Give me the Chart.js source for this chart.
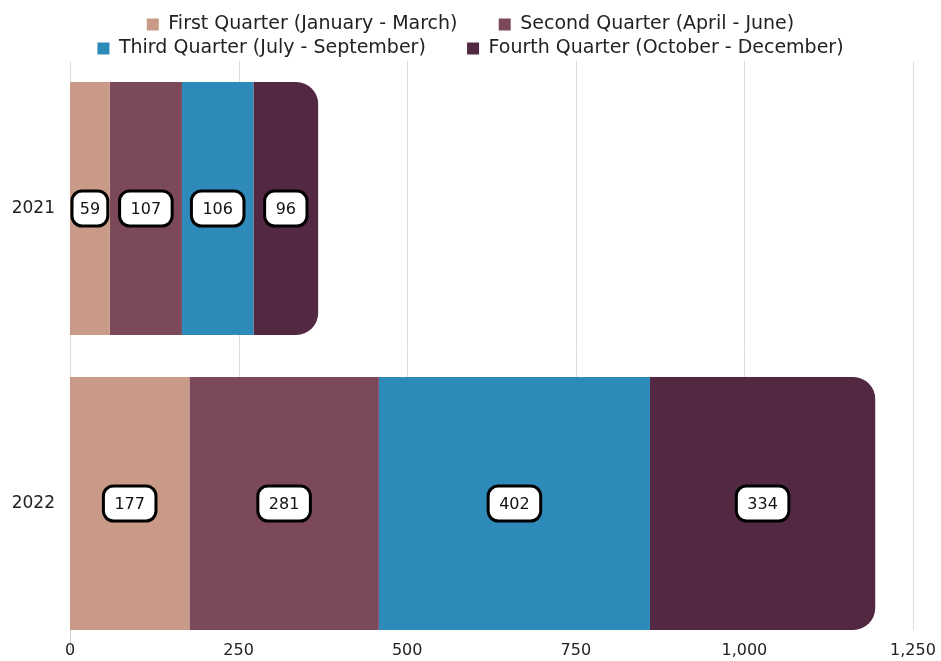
<!DOCTYPE html>
<html>
<head>
<meta charset="utf-8">
<script src="https://cdn.jsdelivr.net/npm/chart.js@4"></script>
<style>
  html, body { margin: 0; padding: 0; background: #fff; }
  canvas { display: block; }
</style>
</head>
<body>
<canvas id="grafico" width="941" height="661"></canvas>
<script>
const anos = ["2021", "2022"];
const primeiro = [59, 177];
const segundo = [107, 281];
const terceiro = [106, 402];
const quarto = [96, 334];
const nomesSeries = [
  "First Quarter (January - March)",
  "Second Quarter (April - June)",
  "Third Quarter (July - September)",
  "Fourth Quarter (October - December)"
];
const ticksX = [0, 250, 500, 750, 1000, 1250];

const cores = ["#C99A87", "#7C495B", "#2E8BB9", "#522843"];
const fonte = "'DejaVu Sans', sans-serif";

// legend sits a bit lower but keeps the plot top in place
const legendaPlugin = {
  id: "legendaAjuste",
  beforeLayout(chart) {
    const lg = chart.legend;
    if (lg && !lg._ajustado) {
      const fitOrig = lg.fit;
      lg.fit = function () {
        fitOrig.call(this);
        this.height -= 7;
      };
      lg._ajustado = true;
    }
  }
};

// grid lines + x labels drawn by hand: grid stops at the bottom of the last bar
const gradePlugin = {
  id: "grade",
  beforeDatasetsDraw(chart) {
    const ctx = chart.ctx;
    const area = chart.chartArea;
    const x = chart.scales.x;
    const meta = chart.getDatasetMeta(0);
    const ult = meta.data[meta.data.length - 1];
    const fundo = ult.y + ult.height / 2;
    ctx.save();
    ctx.strokeStyle = "#dcdcdc";
    ctx.lineWidth = 1;
    ticksX.forEach(v => {
      const px = Math.round(x.getPixelForValue(v)) + 0.5;
      ctx.beginPath();
      ctx.moveTo(px, area.top);
      ctx.lineTo(px, fundo);
      ctx.stroke();
    });
    ctx.font = "16px " + fonte;
    ctx.fillStyle = "#222";
    ctx.textAlign = "center";
    ctx.textBaseline = "middle";
    ticksX.forEach(v => {
      ctx.fillText(v.toLocaleString("en-US"), x.getPixelForValue(v), fundo + 21);
    });
    ctx.restore();
  }
};

const rotulosPlugin = {
  id: "rotulos",
  afterDatasetsDraw(chart) {
    const ctx = chart.ctx;
    ctx.save();
    ctx.font = "16px " + fonte;
    ctx.textAlign = "center";
    ctx.textBaseline = "middle";
    chart.data.datasets.forEach((ds, i) => {
      chart.getDatasetMeta(i).data.forEach((el, j) => {
        const cx = (el.x + el.base) / 2;
        const cy = el.y;
        const txt = String(ds.data[j]);
        const larguraBarra = Math.abs(el.x - el.base);
        let w = ctx.measureText(txt).width + 22;
        if (w > larguraBarra - 4) w = larguraBarra - 4;
        const h = 35;
        ctx.beginPath();
        ctx.roundRect(cx - w / 2, cy - h / 2, w, h, 10);
        ctx.fillStyle = "#ffffff";
        ctx.fill();
        ctx.lineWidth = 3;
        ctx.strokeStyle = "#000000";
        ctx.stroke();
        ctx.fillStyle = "#111111";
        ctx.fillText(txt, cx, cy + 1);
      });
    });
    ctx.restore();
  }
};

const series = [primeiro, segundo, terceiro, quarto];

new Chart(document.getElementById("grafico"), {
  type: "bar",
  data: {
    labels: anos,
    datasets: series.map((dados, i) => ({
      label: nomesSeries[i],
      data: dados,
      backgroundColor: cores[i],
      categoryPercentage: 1,
      barPercentage: 0.8576,
      borderRadius: i === 3 ? 22 : 0,
      borderSkipped: i === 3 ? "left" : false
    }))
  },
  options: {
    indexAxis: "y",
    responsive: false,
    animation: false,
    layout: { padding: { left: 12, right: 12, top: 10, bottom: 10 } },
    plugins: {
      legend: {
        position: "top",
        labels: {
          boxWidth: 12,
          boxHeight: 12,
          color: "#222",
          padding: 5,
          font: { family: fonte, size: 19 },
          generateLabels(chart) {
            const itens = Chart.defaults.plugins.legend.labels.generateLabels(chart);
            // extra gap after the first item of each row
            itens.forEach((it, i) => {
              if (i % 2 === 0) it.text = it.text + "      ";
            });
            return itens;
          }
        }
      },
      tooltip: { enabled: false }
    },
    scales: {
      x: {
        stacked: true,
        min: 0,
        max: 1250,
        afterFit(axis) { axis.height = 0; },
        grid: { display: false, drawTicks: false },
        border: { display: false },
        ticks: { display: false }
      },
      y: {
        stacked: true,
        afterFit(axis) {
          axis.width = 58;
          axis.paddingTop = 0;
          axis.paddingBottom = 0;
        },
        grid: { display: false, drawTicks: false },
        border: { display: true, color: "#cfcfcf" },
        ticks: {
          padding: 15,
          color: "#222",
          font: { family: fonte, size: 17 }
        }
      },
      y2: {
        type: "category",
        axis: "y",
        position: "right",
        afterFit(axis) {
          axis.width = 16;
          axis.paddingTop = 0;
          axis.paddingBottom = 0;
        },
        grid: { display: false, drawTicks: false },
        border: { display: false },
        ticks: { display: false }
      }
    }
  },
  plugins: [legendaPlugin, gradePlugin, rotulosPlugin]
});
</script>
</body>
</html>
